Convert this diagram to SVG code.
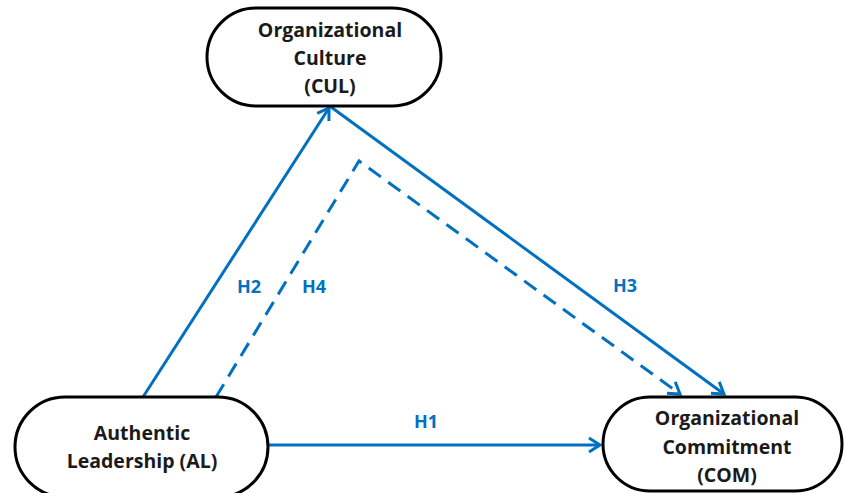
<svg xmlns="http://www.w3.org/2000/svg" width="845" height="493" viewBox="0 0 845 493">
<defs>
<style>
.node{fill:#fff;stroke:#000;stroke-width:3}
.nt{font-family:"Open Sans","Liberation Sans",sans-serif;font-weight:bold;font-size:19.5px;fill:#1a1a1a;text-anchor:middle}
.lbl{font-family:"Open Sans","Liberation Sans",sans-serif;font-weight:bold;font-size:18px;fill:#0070C0;text-anchor:middle}
.edge{fill:none;stroke:#0070C0;stroke-width:3}
.dash{stroke-dasharray:15 9}
</style>
<marker id="arr" markerUnits="userSpaceOnUse" markerWidth="20" markerHeight="20" viewBox="-14 -10 16 20" refX="0" refY="0" orient="auto">
<path d="M-11,-7 L0,0 L-11,7" fill="none" stroke="#0070C0" stroke-width="3" stroke-linejoin="miter"/>
</marker>
</defs>
<rect width="845" height="493" fill="#fff"/>
<g id="connectors">
<line class="edge" x1="143" y1="397" x2="329" y2="108" marker-end="url(#arr)"/>
<line class="edge" x1="331" y1="107" x2="724" y2="394" marker-end="url(#arr)"/>
<polyline class="edge dash" points="216,397 359,161 680,394" marker-end="url(#arr)"/>
<line class="edge" x1="268" y1="445" x2="600" y2="445" marker-end="url(#arr)"/>
<text class="lbl" x="249" y="293">H2</text>
<text class="lbl" x="314" y="293">H4</text>
<text class="lbl" x="625" y="292">H3</text>
<text class="lbl" x="426" y="428">H1</text>
</g>
<g id="CUL">
<rect class="node" x="207" y="8" width="234" height="98" rx="49"/>
<text class="nt" x="330" y="37">Organizational</text>
<text class="nt" x="330" y="65">Culture</text>
<text class="nt" x="330" y="93">(CUL)</text>
</g>
<g id="AL">
<rect class="node" x="15" y="397" width="253" height="100" rx="50"/>
<text class="nt" x="142" y="440">Authentic</text>
<text class="nt" x="142" y="468">Leadership (AL)</text>
</g>
<g id="COM">
<rect class="node" x="603" y="397" width="239" height="94" rx="47"/>
<text class="nt" x="727" y="425">Organizational</text>
<text class="nt" x="727" y="454">Commitment</text>
<text class="nt" x="727" y="482">(COM)</text>
</g>
</svg>
